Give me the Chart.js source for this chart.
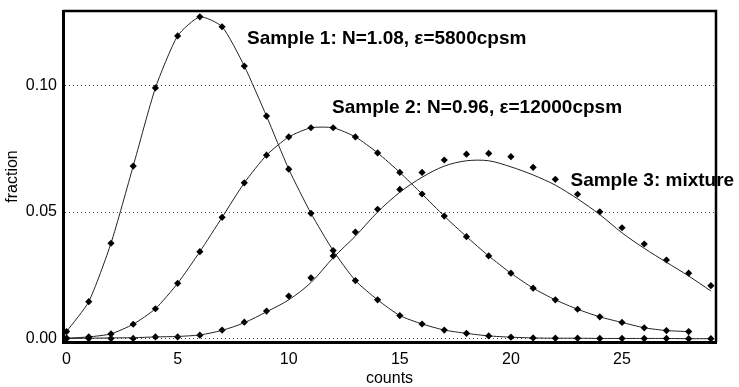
<!DOCTYPE html>
<html>
<head>
<meta charset="utf-8">
<script src="https://cdn.jsdelivr.net/npm/chart.js@4.4.1/dist/chart.umd.min.js"></script>
<style>
    html, body { margin: 0; padding: 0; background: #fff; }
    #wrap { width: 739px; height: 387px; }
</style>
</head>
<body>
<div id="wrap"><canvas id="fractionChart" width="739" height="387"></canvas></div>
<script>
// Counts (x) and the fraction measured for each sample
const counts = [0, 1, 2, 3, 4, 5, 6, 7, 8, 9, 10, 11, 12, 13, 14, 15, 16, 17, 18, 19, 20, 21, 22, 23, 24, 25, 26, 27, 28, 29];
const sample1 = [0.0029, 0.0147, 0.0377, 0.0681, 0.0989, 0.1194, 0.1269, 0.1230, 0.1075, 0.0878, 0.0669, 0.0495, 0.0348, 0.0230, 0.0154,
    0.0092, 0.0059, 0.0035, 0.0022, 0.0012, 0.0007, 0.0004, 0.0003, 0.0003, 0.0002, 0.0002, 0.0002, 0.0002, 0.0001, 0.0001];
const sample2 = [0.0003, 0.0008, 0.0020, 0.0058, 0.0119, 0.0219, 0.0344, 0.0479, 0.0615, 0.0724, 0.0796, 0.0832, 0.0832, 0.0796, 0.0733,
    0.0656, 0.0571, 0.0484, 0.0403, 0.0327, 0.0259, 0.0200, 0.0154, 0.0117, 0.0087, 0.0065, 0.0044, 0.0033, 0.0029, null];
const sample3 = [0.0002, 0.0002, 0.0002, 0.0002, 0.0008, 0.0008, 0.0015, 0.0035, 0.0066, 0.0110, 0.0169, 0.0241, 0.0327, 0.0421, 0.0511,
    0.0589, 0.0656, 0.0705, 0.0728, 0.0731, 0.0718, 0.0676, 0.0629, 0.0570, 0.0501, 0.0438, 0.0374, 0.0311, 0.0259, 0.0210];
// fitted curve for the mixture
const fit3 = [0.0002, 0.0003, 0.0004, 0.0005, 0.0008, 0.0010, 0.0016, 0.0034, 0.0064, 0.0107, 0.0154, 0.0222, 0.0320, 0.0405, 0.0500,
    0.0578, 0.0637, 0.0681, 0.0702, 0.0702, 0.0678, 0.0646, 0.0606, 0.0552, 0.0490, 0.0418, 0.0357, 0.0302, 0.0248, 0.0189];

const xTicks = [0, 5, 10, 15, 20, 25];
const yTicks = [0, 0.05, 0.10];

// annotations, anchored in data units (left / baseline)
const noteTexts = ["Sample 1: N=1.08, \u03b5=5800cpsm", "Sample 2: N=0.96, \u03b5=12000cpsm", "Sample 3: mixture"];
const noteX = [8.12, 11.95, 22.68];
const noteY = [0.1161, 0.0890, 0.0602];

function toPoints(values) {
    return counts.map((c, i) => ({ x: c, y: values[i] }));
}

// draws the top/right frame and the sample labels
const frameAndNotes = {
    id: 'frameAndNotes',
    afterDraw(chart) {
        const { ctx, chartArea, scales } = chart;
        ctx.save();
        ctx.strokeStyle = '#000';
        ctx.lineWidth = 2.5;
        ctx.beginPath();
        ctx.moveTo(chartArea.left, chartArea.top);
        ctx.lineTo(chartArea.right, chartArea.top);
        ctx.lineTo(chartArea.right, chartArea.bottom);
        ctx.stroke();

        ctx.font = 'bold 19px "Liberation Sans", Arial, sans-serif';
        ctx.fillStyle = '#000';
        ctx.textAlign = 'left';
        ctx.textBaseline = 'alphabetic';
        noteTexts.forEach((t, i) => {
            ctx.fillText(t, scales.x.getPixelForValue(noteX[i]), scales.y.getPixelForValue(noteY[i]));
        });
        ctx.restore();
    }
};

const tickFont = { family: '"Liberation Sans", Arial, sans-serif', size: 16 };

const ctx = document.getElementById('fractionChart').getContext('2d');
new Chart(ctx, {
    type: 'line',
    data: {
        datasets: [
            {
                label: 'Sample 1',
                data: toPoints(sample1),
                borderColor: '#222',
                borderWidth: 1,
                backgroundColor: '#000',
                pointStyle: 'rectRot',
                pointRadius: 3.6,
                pointBorderWidth: 0,
                tension: 0.2
            },
            {
                label: 'Sample 2',
                data: toPoints(sample2),
                borderColor: '#222',
                borderWidth: 1,
                backgroundColor: '#000',
                pointStyle: 'rectRot',
                pointRadius: 3.6,
                pointBorderWidth: 0,
                tension: 0.2
            },
            {
                label: 'Sample 3 fit',
                data: toPoints(fit3),
                borderColor: '#222',
                borderWidth: 1,
                pointRadius: 0,
                tension: 0.3
            },
            {
                label: 'Sample 3',
                data: toPoints(sample3),
                showLine: false,
                backgroundColor: '#000',
                pointStyle: 'rectRot',
                pointRadius: 3.6,
                pointBorderWidth: 0
            }
        ]
    },
    options: {
        responsive: false,
        animation: false,
        devicePixelRatio: 1,
        layout: { padding: { left: 0, right: 23, top: 11, bottom: 0 } },
        plugins: {
            legend: { display: false },
            tooltip: { enabled: false }
        },
        scales: {
            x: {
                type: 'linear',
                min: -0.16,
                max: 29.23,
                afterBuildTicks: scale => { scale.ticks = xTicks.map(v => ({ value: v })); },
                afterFit: scale => {
                    scale.height = 45;
                    scale.paddingLeft = 0;
                    scale.paddingRight = 0;
                },
                grid: { display: false, drawTicks: false },
                border: { display: true, color: '#000', width: 3 },
                ticks: { color: '#000', font: tickFont, padding: 8, maxRotation: 0, callback: v => String(v) },
                title: { display: true, text: 'counts', color: '#000', font: { family: tickFont.family, size: 16, lineHeight: 1.1 }, padding: { top: 0, bottom: 0 } }
            },
            y: {
                min: -0.0012,
                max: 0.1292,
                afterBuildTicks: scale => { scale.ticks = yTicks.map(v => ({ value: v })); },
                afterFit: scale => {
                    scale.width = 63;
                    scale.paddingTop = 0;
                    scale.paddingBottom = 0;
                },
                grid: { display: true, color: '#444', lineWidth: 1, drawTicks: false },
                border: { display: true, color: '#000', width: 3, dash: [1, 3] },
                ticks: { color: '#000', font: tickFont, padding: 6, callback: v => v.toFixed(2) },
                title: { display: true, text: 'fraction', color: '#000', font: { family: tickFont.family, size: 16, lineHeight: 1.2 }, padding: { top: 3, bottom: 0 } }
            }
        }
    },
    plugins: [frameAndNotes]
});
</script>
</body>
</html>
